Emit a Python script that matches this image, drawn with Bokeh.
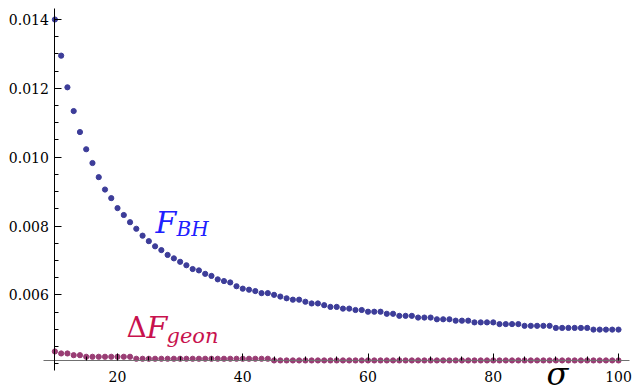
from bokeh.plotting import figure
from bokeh.models import Range1d, FixedTicker, NumeralTickFormatter, Label, ColumnDataSource
from bokeh.embed import file_html
from bokeh.resources import INLINE

# ---- data ----
sigma = list(range(10, 101))

f_bh = [
    0.01400, 0.01295, 0.01203, 0.01134, 0.01073, 0.01023, 0.00983, 0.00942, 0.00906, 0.00881,  # 10-19
    0.00852, 0.00832, 0.00811, 0.00792, 0.00772, 0.00756, 0.00741, 0.00730, 0.00716, 0.00706,  # 20-29
    0.00696, 0.00686, 0.00675, 0.00671, 0.00661, 0.00655, 0.00645, 0.00640, 0.00636, 0.00625,  # 30-39
    0.00618, 0.00615, 0.00611, 0.00605, 0.00605, 0.00600, 0.00595, 0.00590, 0.00586, 0.00586,  # 40-49
    0.00580, 0.00575, 0.00575, 0.00570, 0.00565, 0.00565, 0.00560, 0.00560, 0.00556, 0.00556,  # 50-59
    0.00551, 0.00551, 0.00551, 0.00545, 0.00545, 0.00539, 0.00539, 0.00539, 0.00534, 0.00534,  # 60-69
    0.00534, 0.00529, 0.00529, 0.00529, 0.00525, 0.00525, 0.00525, 0.00520, 0.00520, 0.00520,  # 70-79
    0.00520, 0.00515, 0.00515, 0.00515, 0.00515, 0.00510, 0.00510, 0.00510, 0.00510, 0.00510,  # 80-89
    0.00504, 0.00504, 0.00504, 0.00504, 0.00504, 0.00504, 0.00499, 0.00499, 0.00499, 0.00499,  # 90-99
    0.00499,                                                                                    # 100
]

d_f_geon = [
    0.004355, 0.004297, 0.004297, 0.004247, 0.004247, 0.004201, 0.004201, 0.004201, 0.004201, 0.004201,  # 10-19
    0.004201, 0.004201, 0.004201, 0.004143, 0.004143, 0.004143, 0.004143, 0.004143, 0.004143, 0.004143,  # 20-29
    0.004143, 0.004143, 0.004143, 0.004143, 0.004143, 0.004143, 0.004143, 0.004143, 0.004143, 0.004143,  # 30-39
    0.004143, 0.004143, 0.004143, 0.004143, 0.004143, 0.004094, 0.004094, 0.004094, 0.004094, 0.004094,  # 40-49
    0.004094, 0.004094, 0.004094, 0.004094, 0.004094, 0.004094, 0.004094, 0.004094, 0.004094, 0.004094,  # 50-59
    0.004094, 0.004094, 0.004094, 0.004094, 0.004094, 0.004094, 0.004094, 0.004094, 0.004094, 0.004094,  # 60-69
    0.004094, 0.004094, 0.004094, 0.004094, 0.004094, 0.004094, 0.004094, 0.004094, 0.004094, 0.004094,  # 70-79
    0.004094, 0.004094, 0.004094, 0.004094, 0.004094, 0.004094, 0.004094, 0.004094, 0.004094, 0.004094,  # 80-89
    0.004094, 0.004094, 0.004094, 0.004094, 0.004094, 0.004094, 0.004094, 0.004094, 0.004094, 0.004094,  # 90-99
    0.004094,                                                                                              # 100
]

x_major = [20, 40, 60, 80, 100]
x_minor = [15, 25, 30, 35, 45, 50, 55, 65, 70, 75, 85, 90, 95]
y_major = [0.006, 0.008, 0.010, 0.012, 0.014]
y_minor = [0.004, 0.0045, 0.005, 0.0055, 0.0065, 0.007, 0.0075, 0.0085, 0.009,
           0.0095, 0.0105, 0.011, 0.0115, 0.0125, 0.013, 0.0135]

# ---- layout ----
W, H = 633, 388
X0, X1 = 1.313, 102.395
Y0, Y1 = 0.003279, 0.014552


def sx(px):
    return X0 + px / W * (X1 - X0)


def sy(py):
    return Y1 - py / H * (Y1 - Y0)


p = figure(width=W, height=H, output_backend="svg", toolbar_location=None,
           x_range=Range1d(X0, X1), y_range=Range1d(Y0, Y1),
           min_border=0, min_border_left=0, min_border_right=0,
           min_border_top=0, min_border_bottom=0)
p.outline_line_color = None
p.grid.visible = False
p.background_fill_color = "white"
p.border_fill_color = "white"

FONT = "DejaVu Serif"

# x axis
xa = p.xaxis[0]
xa.fixed_location = sy(360)
xa.bounds = (sx(42.5), sx(629))
xa.ticker = FixedTicker(ticks=x_major, minor_ticks=x_minor)
xa.axis_line_color = "#707070"
xa.major_tick_in = 7
xa.major_tick_out = 0
xa.minor_tick_in = 4
xa.minor_tick_out = 0
xa.major_tick_line_color = "black"
xa.minor_tick_line_color = "black"
xa.major_label_text_font = FONT
xa.major_label_text_font_size = "14px"
xa.major_label_text_font_style = "normal"
xa.major_label_text_color = "black"
xa.major_label_standoff = 10

# y axis
ya = p.yaxis[0]
ya.fixed_location = 10
ya.bounds = (sy(370), sy(8))
ya.ticker = FixedTicker(ticks=y_major, minor_ticks=y_minor)
ya.formatter = NumeralTickFormatter(format="0.000")
ya.axis_line_color = "black"
ya.major_tick_in = 7
ya.major_tick_out = 0
ya.minor_tick_in = 4
ya.minor_tick_out = 0
ya.major_tick_line_color = "black"
ya.minor_tick_line_color = "black"
ya.major_label_text_font = FONT
ya.major_label_text_font_size = "14px"
ya.major_label_text_font_style = "normal"
ya.major_label_text_color = "black"
ya.major_label_standoff = 6

src = ColumnDataSource(dict(sigma=sigma, f_bh=f_bh, d_f_geon=d_f_geon))
p.scatter("sigma", "f_bh", source=src, size=5.2, color="#3d3d99")
p.scatter("sigma", "d_f_geon", source=src, size=5.2, color="#993d74")

BLUE = "#2020ff"
RED = "#c8124e"


def lab(px, py, text, size, color, style="italic"):
    p.add_layout(Label(x=sx(px), y=sy(py), text=text, text_font=FONT,
                       text_font_size=size, text_font_style=style,
                       text_color=color, text_baseline="alphabetic",
                       text_align="left"))


lab(155, 222, "F", "30px", BLUE)
lab(176, 228, "BH", "20px", BLUE)
lab(126, 327, "\u0394", "28px", RED, style="normal")
lab(146, 327, "F", "30px", RED)
lab(166, 335, "geon", "21px", RED)
lab(546, 373, "\u03c3", "32px", "black")

open("out.html", "w").write(file_html(p, INLINE))
